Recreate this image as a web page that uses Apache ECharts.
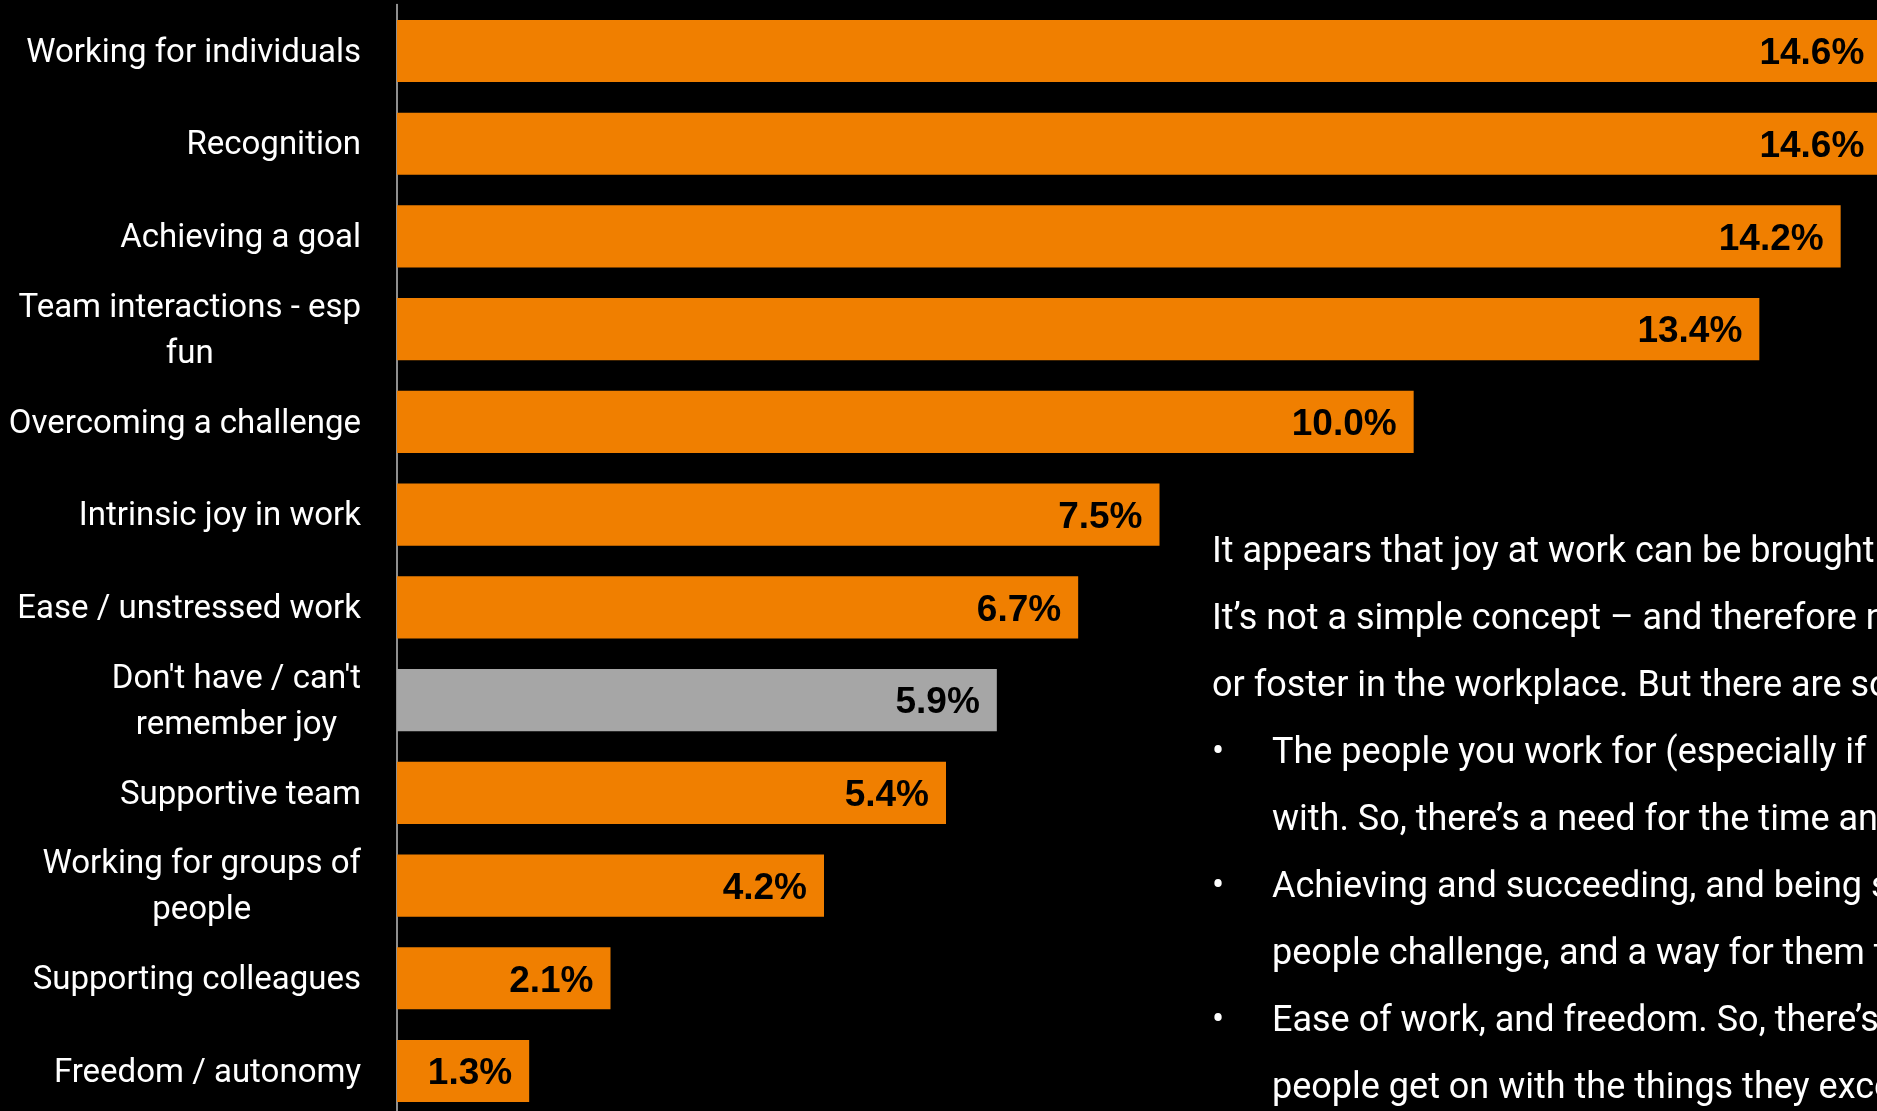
<!DOCTYPE html>
<html>
<head>
<meta charset="utf-8">
<style>
  html, body { margin: 0; padding: 0; background: #000; overflow: hidden; }
  /* the plot runs a little past the visible page on the right and bottom */
  #chart { width: 1940px; height: 1140px; }
</style>
<script src="https://cdn.jsdelivr.net/npm/echarts@6/dist/echarts.min.js"></script>
</head>
<body>
<div id="chart"></div>
<script>
// Sources of joy at work, share of responses (%)
const categories = [
  'Working for individuals',
  'Recognition',
  'Achieving a goal',
  'Team interactions - esp\nfun',
  'Overcoming a challenge',
  'Intrinsic joy in work',
  'Ease / unstressed work',
  "Don't have / can't\nremember joy",
  'Supportive team',
  'Working for groups of\npeople',
  'Supporting colleagues',
  'Freedom / autonomy'
];
const values = [14.6, 14.6, 14.2, 13.4, 10.0, 7.5, 6.7, 5.9, 5.4, 4.2, 2.1, 1.3];
const noJoyCategory = "Don't have / can't\nremember joy";

// Commentary beside the chart
const paragraphLines = [
  'It appears that joy at work can be brought about',
  'It’s not a simple concept – and therefore not easy',
  'or foster in the workplace. But there are some'
];
const bulletLines = [
  ['The people you work for (especially if individuals)', 'with. So, there’s a need for the time and'],
  ['Achieving and succeeding, and being successful', 'people challenge, and a way for them to'],
  ['Ease of work, and freedom. So, there’s a', 'people get on with the things they excel']
];

const ORANGE = '#F07F00';
const GREY = '#A6A6A6';
const FONT = 'Roboto, "Noto Sans", sans-serif';

const chart = echarts.init(document.getElementById('chart'));

// text blocks on the right
const textX = 1212, bulletTextX = 1272, firstMid = 553, lineStep = 67;
const graphics = [];
let row = 0;
paragraphLines.forEach(t => {
  graphics.push({
    type: 'text', x: textX, y: firstMid + row * lineStep,
    style: { text: t, fill: '#fff', font: '36px ' + FONT, verticalAlign: 'middle', align: 'left' }
  });
  row++;
});
bulletLines.forEach(pair => {
  graphics.push({
    type: 'text', x: textX, y: firstMid + row * lineStep,
    style: { text: '•', fill: '#fff', font: '36px ' + FONT, verticalAlign: 'middle', align: 'left' }
  });
  pair.forEach(t => {
    graphics.push({
      type: 'text', x: bulletTextX, y: firstMid + row * lineStep,
      style: { text: t, fill: '#fff', font: '36px ' + FONT, verticalAlign: 'middle', align: 'left' }
    });
    row++;
  });
});

chart.setOption({
  backgroundColor: '#000',
  animation: false,
  grid: { left: 397, top: 4.6, width: 1525, height: 1112.8, containLabel: false },
  xAxis: {
    type: 'value', min: 0, max: 15, show: false,
    splitLine: { show: false }
  },
  yAxis: {
    type: 'category',
    data: categories,
    inverse: true,
    axisLine: { show: true, lineStyle: { color: '#BFBFBF', width: 1.5 } },
    axisTick: { show: false },
    axisLabel: {
      margin: 36,
      align: 'right',
      padding: [5, 0, 0, 0],
      formatter: v => v.split('\n').map(s => '{c|' + s + '}').join('\n'),
      rich: {
        c: { color: '#fff', fontSize: 33, lineHeight: 46, fontFamily: FONT, align: 'center' }
      }
    }
  },
  series: [{
    type: 'bar',
    barWidth: '67%',
    data: values.map((v, i) => ({
      value: v,
      itemStyle: { color: categories[i] === noJoyCategory ? GREY : ORANGE }
    })),
    label: {
      show: true,
      position: 'insideRight',
      distance: 17,
      offset: [0, 3],
      color: '#000',
      fontSize: 37,
      fontWeight: 'bold',
      fontFamily: '"Liberation Sans", Arial, sans-serif',
      formatter: p => p.value.toFixed(1) + '%'
    }
  }],
  graphic: graphics
});
</script>
</body>
</html>
